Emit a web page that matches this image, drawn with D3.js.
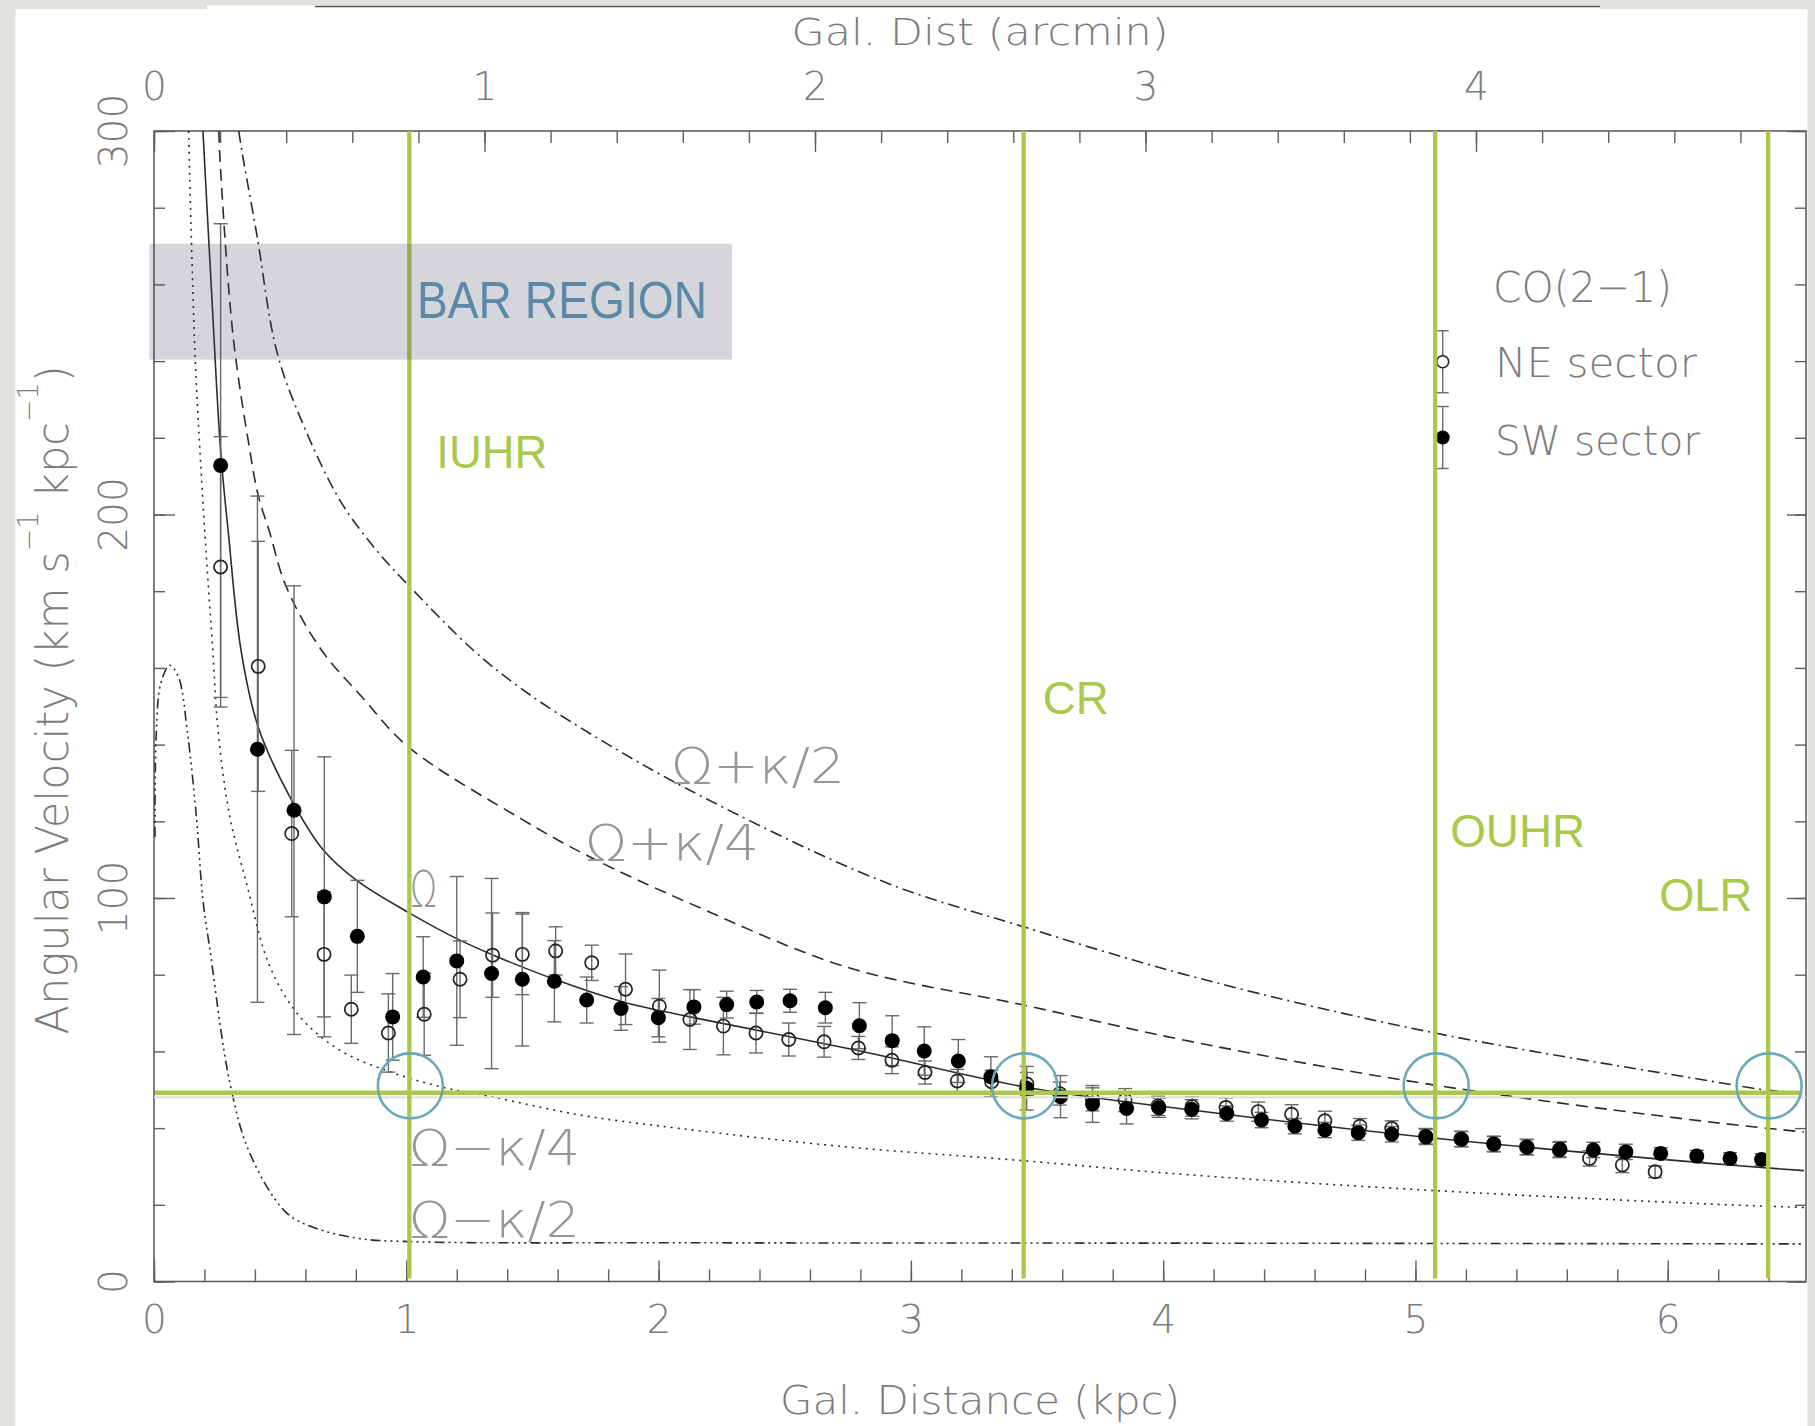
<!DOCTYPE html>
<html>
<head>
<meta charset="utf-8">
<script src="https://cdn.jsdelivr.net/npm/d3@7"></script>
<style>
  body { margin: 0; background: #e4e2dd; }
  svg { display: block; }
</style>
</head>
<body>
<svg id="chart"></svg>
<script>
// ---- values ----
// NE sector (open circles): radius (kpc), angular velocity, error
let neX = [0.264, 0.413, 0.546, 0.674, 0.782, 0.929, 1.071, 1.213, 1.342, 1.46, 1.592, 1.735, 1.869, 2.003, 2.124,
  2.257, 2.386, 2.516, 2.656, 2.792, 2.925, 3.056, 3.184, 3.32, 3.46, 3.59, 3.72, 3.849, 3.98, 4.115,
  4.249, 4.377, 4.509, 4.641, 4.78, 4.906, 5.04, 5.18, 5.31, 5.44, 5.57, 5.69, 5.82, 5.95];
let neY = [186.3, 160.4, 116.8, 85.3, 71.0, 64.8, 69.7, 78.8, 85.1, 85.3, 86.2, 83.1, 76.2, 71.8, 68.3,
  66.6, 64.8, 63.1, 62.5, 60.9, 57.7, 54.5, 52.3, 52.1, 51.5, 49.0, 47.5, 47.3, 45.8, 45.6,
  45.4, 44.3, 43.6, 41.9, 40.5, 39.9, 37.9, 37.2, 35.9, 35.1, 34.3, 32.1, 30.4, 28.6];
let neErr = [34, 32.6, 21.7, 16.3, 8.9, 10.2, 10.7, 10, 11, 10.5, 6.3, 4.6, 9.2, 9.4, 7.8,
  7.5, 5.2, 4.3, 4, 3, 3.5, 3, 3, 3, 3, 3, 3, 3, 2.5, 2.5,
  2.5, 2.5, 2.5, 2.5, 2, 2, 2, 2, 2, 2, 2, 2, 2, 1.5];

// SW sector (filled circles)
let swX = [0.264, 0.41, 0.555, 0.675, 0.806, 0.946, 1.067, 1.2, 1.338, 1.46, 1.587, 1.715, 1.851, 1.999, 2.14,
  2.27, 2.389, 2.521, 2.661, 2.796, 2.926, 3.053, 3.188, 3.317, 3.459, 3.593, 3.72, 3.855, 3.983, 4.113,
  4.252, 4.39, 4.522, 4.641, 4.773, 4.906, 5.042, 5.183, 5.311, 5.443, 5.573, 5.705, 5.834, 5.972, 6.115,
  6.247, 6.372];
let swY = [212.8, 138.8, 122.9, 100.3, 90.0, 69.0, 79.4, 83.6, 80.3, 78.8, 78.3, 73.4, 71.2, 68.8, 71.6,
  72.2, 72.9, 73.2, 71.4, 66.7, 62.8, 60.1, 57.5, 53.4, 50.4, 48.2, 46.3, 45.1, 45.3, 44.9,
  43.8, 42.1, 40.5, 39.5, 38.8, 38.4, 37.7, 37.1, 35.8, 35.0, 34.5, 34.3, 33.8, 33.4, 32.7,
  32.1, 31.8];
let swErr = [63, 66, 58.5, 36.5, 14.6, 11.3, 10.5, 22, 24.8, 17.4, 10.6, 6, 5.7, 5, 4.5,
  3.5, 3, 3, 4, 6, 6.5, 6.3, 5.6, 5.2, 5.7, 5.5, 4.8, 4, 2.5, 2.5,
  2, 2, 2, 2, 2, 2, 2, 2, 2, 2, 2, 2, 2, 1.5, 1.5,
  1.5, 1.5];

// model frequency curves [kpc, km/s/kpc]
let omegaPts = [[0.194, 300], [0.23, 255.8], [0.264, 216.7], [0.295, 195], [0.345, 164.6], [0.413, 144.6],
  [0.539, 126.3], [0.671, 112.5], [0.803, 104.6], [1.015, 96.0], [1.2, 89.4], [1.345, 85.1], [1.596, 78.6],
  [1.86, 72.9], [2.124, 69.0], [2.785, 60.3], [3.446, 50.8], [4.113, 44.7], [5.031, 37.7], [6.167, 30.8], [6.54, 28.9]];
let plusK4Pts = [[0.257, 300], [0.262, 292.2], [0.314, 246.2], [0.38, 216.7], [0.413, 205], [0.46, 195],
  [0.522, 181.5], [0.66, 165], [0.83, 152], [1.008, 139.4], [1.464, 120.3], [1.728, 110.7], [2.124, 98.6],
  [2.745, 82], [3.446, 72.1], [4.146, 62.1], [5.077, 51.2], [6.167, 41.6], [6.54, 39.0]];
let plusK2Pts = [[0.336, 300], [0.348, 294.9], [0.407, 273.2], [0.486, 242.7], [0.579, 225.4], [0.737, 203.7],
  [0.883, 190.6], [1.015, 181.1], [1.266, 164.6], [1.464, 154.2], [1.728, 142.9], [2.124, 128.1], [2.878, 104.6],
  [3.446, 92.5], [4.146, 79.0], [5.077, 64.8], [6.167, 52.3], [6.392, 49.9], [6.54, 49.2]];
let minusK4Pts = [[0.137, 300], [0.162, 242.7], [0.182, 216.7], [0.206, 190.6], [0.233, 164.6], [0.255, 142.9],
  [0.301, 121.1], [0.367, 103.8], [0.46, 82], [0.579, 69], [0.737, 60.3], [0.935, 54.7], [1.134, 50.8],
  [1.336, 48.2], [1.69, 43.4], [2.085, 39.9], [2.745, 35.1], [3.408, 31.7], [4.106, 27.8], [5.077, 23.7],
  [6.167, 20.2], [6.54, 19.3]];
let minusK2Pts = [[0.004, 116], [0.009, 143], [0.027, 156], [0.062, 160.7], [0.097, 157.6], [0.133, 142.9],
  [0.168, 121.1], [0.194, 99.4], [0.222, 86.4], [0.301, 51.7], [0.38, 33.4], [0.522, 18.1], [0.628, 14.2],
  [0.805, 11.3], [1.017, 10.4], [2.164, 10.1], [4.1, 10.0], [6.54, 9.8]];

// resonances and pattern speed
let resNames = ["IUHR", "CR", "OUHR", "OLR"];
let resX = [1.012, 3.447, 5.078, 6.398];
let patternSpeed = 49.2;
let circleLevel = 51.0;

// ticks
let kpcTicks = [0, 1, 2, 3, 4, 5, 6];
let arcminTicks = [0, 1, 2, 3, 4];
let velTicks = [0, 100, 200, 300];

// ---- layout ----
const W = 1815, H = 1426;
const plot = { left: 154, top: 131, right: 1806, bottom: 1281.5 };
const kpcPerArcmin = 1.31;
const xMax = 6.548;

const axisGrey = "#5e5e5e", labelGrey = "#7c7c7c", curveGrey = "#969696";
const green = "#aac84c", teal = "#6aa9ba";
const pgFont = "'DejaVu Sans', sans-serif";
const annFont = "'Liberation Sans', Arial, sans-serif";

const x = d3.scaleLinear().domain([0, xMax]).range([plot.left, plot.right]);
const xArc = d3.scaleLinear().domain([0, xMax / kpcPerArcmin]).range([plot.left, plot.right]);
const y = d3.scaleLinear().domain([0, 300]).range([plot.bottom, plot.top]);

const svg = d3.select("#chart").attr("width", W).attr("height", H);

// white sheet on the grey page
svg.append("rect").attr("x", 15.5).attr("y", 9).attr("width", 1792).attr("height", H - 9).attr("fill", "#fff");
svg.append("rect").attr("x", 207).attr("y", 5.5).attr("width", 1393).attr("height", 4).attr("fill", "#fff");
svg.append("line").attr("x1", 315).attr("x2", 1600).attr("y1", 6.5).attr("y2", 6.5)
  .attr("stroke", "#555").attr("stroke-width", 1.5);

// axes
function styleAxis(g) {
  g.select(".domain").remove();
  g.selectAll(".tick line").attr("stroke", axisGrey).attr("stroke-width", 1.4);
  g.selectAll(".tick text").attr("fill", labelGrey).attr("font-size", 39)
    .attr("font-family", pgFont).attr("font-weight", 300);
}
const minorKpc = d3.range(33).map(i => i * 0.2);
const minorArc = d3.range(25).map(i => i * 0.2);
const minorVel = d3.range(0, 301, 20);

svg.append("g").attr("transform", `translate(0,${plot.bottom})`)
  .call(d3.axisBottom(x).tickValues(minorKpc).tickSizeInner(-12).tickSizeOuter(0).tickFormat(""))
  .call(styleAxis);
svg.append("g").attr("transform", `translate(0,${plot.bottom})`)
  .call(d3.axisBottom(x).tickValues(kpcTicks).tickSizeInner(-21).tickSizeOuter(0).tickPadding(24).tickFormat(d3.format("d")))
  .call(styleAxis);

svg.append("g").attr("transform", `translate(0,${plot.top})`)
  .call(d3.axisTop(xArc).tickValues(minorArc).tickSizeInner(-12).tickSizeOuter(0).tickFormat(""))
  .call(styleAxis);
svg.append("g").attr("transform", `translate(0,${plot.top})`)
  .call(d3.axisTop(xArc).tickValues(arcminTicks).tickSizeInner(-21).tickSizeOuter(0).tickPadding(31).tickFormat(d3.format("d")))
  .call(styleAxis);

svg.append("g").attr("transform", `translate(${plot.left},0)`)
  .call(d3.axisLeft(y).tickValues(minorVel).tickSizeInner(-11).tickSizeOuter(0).tickFormat(""))
  .call(styleAxis);
svg.append("g").attr("transform", `translate(${plot.left},0)`)
  .call(d3.axisLeft(y).tickValues(velTicks).tickSizeInner(-21).tickSizeOuter(0).tickFormat(""))
  .call(styleAxis);
svg.append("g").attr("transform", `translate(${plot.right},0)`)
  .call(d3.axisRight(y).tickValues(minorVel).tickSizeInner(-11).tickSizeOuter(0).tickFormat(""))
  .call(styleAxis);
svg.append("g").attr("transform", `translate(${plot.right},0)`)
  .call(d3.axisRight(y).tickValues(velTicks).tickSizeInner(-19).tickSizeOuter(0).tickFormat(""))
  .call(styleAxis);

// rotated y tick labels
svg.append("g").selectAll("text").data(velTicks).join("text")
  .attr("transform", d => `translate(127,${y(d)}) rotate(-90)`)
  .attr("text-anchor", "middle")
  .attr("fill", labelGrey).attr("font-size", 39).attr("font-family", pgFont).attr("font-weight", 300)
  .text(d => d);

// frame
svg.append("rect").attr("x", plot.left).attr("y", plot.top)
  .attr("width", plot.right - plot.left).attr("height", plot.bottom - plot.top)
  .attr("fill", "none").attr("stroke", axisGrey).attr("stroke-width", 1.6);

// axis titles
svg.append("text").attr("x", 980).attr("y", 1414).attr("text-anchor", "middle")
  .attr("fill", labelGrey).attr("font-size", 39).attr("font-family", pgFont).attr("font-weight", 300)
  .attr("textLength", 400).attr("lengthAdjust", "spacingAndGlyphs")
  .text("Gal. Distance (kpc)");
svg.append("text").attr("x", 980).attr("y", 45).attr("text-anchor", "middle")
  .attr("fill", labelGrey).attr("font-size", 38).attr("font-family", pgFont).attr("font-weight", 300)
  .attr("textLength", 377).attr("lengthAdjust", "spacingAndGlyphs")
  .text("Gal. Dist (arcmin)");

const yTitle = svg.append("text").attr("transform", "translate(68,700) rotate(-90)")
  .attr("text-anchor", "middle")
  .attr("fill", labelGrey).attr("font-size", 45).attr("font-family", pgFont).attr("font-weight", 300)
  .attr("textLength", 669).attr("lengthAdjust", "spacingAndGlyphs");
yTitle.append("tspan").text("Angular Velocity (km s");
yTitle.append("tspan").attr("dy", -30).attr("font-size", 28).text("\u22121");
yTitle.append("tspan").attr("dy", 30).text(" kpc");
yTitle.append("tspan").attr("dy", -30).attr("font-size", 28).text("\u22121");
yTitle.append("tspan").attr("dy", 30).text(")");

// clip for everything inside the frame
svg.append("clipPath").attr("id", "plotClip").append("rect")
  .attr("x", plot.left).attr("y", plot.top)
  .attr("width", plot.right - plot.left).attr("height", plot.bottom - plot.top);

const inner = svg.append("g").attr("clip-path", "url(#plotClip)");

// model curves
const line = d3.line().x(d => x(d[0])).y(d => y(d[1])).curve(d3.curveCatmullRom.alpha(0.5));
const curves = [
  { pts: omegaPts, dash: null },
  { pts: plusK4Pts, dash: "12 7" },
  { pts: plusK2Pts, dash: "12 5 2 5" },
  { pts: minusK4Pts, dash: "2 5" },
  { pts: minusK2Pts, dash: "10 4 2 4 2 4 2 4" }
];
inner.selectAll("path.curve").data(curves).join("path").attr("class", "curve")
  .attr("d", d => line(d.pts))
  .attr("fill", "none").attr("stroke", "#2b2b2b").attr("stroke-width", 1.6)
  .attr("stroke-dasharray", d => d.dash);

// error bars
function errorBars(xs, ys, es) {
  const g = inner.append("g").attr("stroke", "#6a6a6a").attr("stroke-width", 1.4);
  const rows = xs.map((v, i) => ({ x: v, y: ys[i], e: es[i] }));
  g.selectAll("line.bar").data(rows).join("line").attr("class", "bar")
    .attr("x1", d => x(d.x)).attr("x2", d => x(d.x))
    .attr("y1", d => y(d.y - d.e)).attr("y2", d => y(d.y + d.e));
  g.selectAll("line.capHi").data(rows).join("line").attr("class", "capHi")
    .attr("x1", d => x(d.x) - 7).attr("x2", d => x(d.x) + 7)
    .attr("y1", d => y(d.y + d.e)).attr("y2", d => y(d.y + d.e));
  g.selectAll("line.capLo").data(rows).join("line").attr("class", "capLo")
    .attr("x1", d => x(d.x) - 7).attr("x2", d => x(d.x) + 7)
    .attr("y1", d => y(d.y - d.e)).attr("y2", d => y(d.y - d.e));
}
errorBars(neX, neY, neErr);
errorBars(swX, swY, swErr);

inner.append("g").selectAll("circle").data(neX).join("circle")
  .attr("cx", d => x(d)).attr("cy", (d, i) => y(neY[i])).attr("r", 6.6)
  .attr("fill", "none").attr("stroke", "#222").attr("stroke-width", 1.7);
inner.append("g").selectAll("circle").data(swX).join("circle")
  .attr("cx", d => x(d)).attr("cy", (d, i) => y(swY[i])).attr("r", 7.5)
  .attr("fill", "#000");

// legend
const legend = svg.append("g");
legend.append("text").attr("x", 1493).attr("y", 302)
  .attr("fill", labelGrey).attr("font-size", 43).attr("font-family", pgFont).attr("font-weight", 300)
  .attr("textLength", 179).attr("lengthAdjust", "spacingAndGlyphs").text("CO(2\u22121)");
const legRows = [
  { label: "NE sector", cy: 361.7, filled: false, w: 202, base: 377 },
  { label: "SW sector", cy: 437.5, filled: true, w: 205, base: 455 }
];
legRows.forEach(r => {
  const lx = 1442.7;
  legend.append("line").attr("x1", lx).attr("x2", lx).attr("y1", r.cy - 31).attr("y2", r.cy + 31)
    .attr("stroke", "#6a6a6a").attr("stroke-width", 1.4);
  [r.cy - 31, r.cy + 31].forEach(cy => legend.append("line")
    .attr("x1", lx - 6).attr("x2", lx + 6).attr("y1", cy).attr("y2", cy)
    .attr("stroke", "#6a6a6a").attr("stroke-width", 1.4));
  legend.append("circle").attr("cx", lx).attr("cy", r.cy).attr("r", r.filled ? 7 : 6)
    .attr("fill", r.filled ? "#000" : "#fff").attr("stroke", r.filled ? "none" : "#222").attr("stroke-width", 1.6);
  legend.append("text").attr("x", 1495).attr("y", r.base)
    .attr("fill", labelGrey).attr("font-size", 40).attr("font-family", pgFont).attr("font-weight", 300)
    .attr("textLength", r.w).attr("lengthAdjust", "spacingAndGlyphs").text(r.label);
});

// curve labels
const curveLabels = [
  { t: "\u03A9+\u03BA/2", x: 671, y: 783, w: 174 },
  { t: "\u03A9+\u03BA/4", x: 585, y: 860, w: 174 },
  { t: "\u03A9", x: 410, y: 906, w: 27 },
  { t: "\u03A9\u2212\u03BA/4", x: 409, y: 1165, w: 171 },
  { t: "\u03A9\u2212\u03BA/2", x: 409, y: 1237, w: 171 }
];
svg.append("g").selectAll("text").data(curveLabels).join("text")
  .attr("x", d => d.x).attr("y", d => d.y)
  .attr("fill", curveGrey).attr("font-size", 50).attr("font-family", pgFont).attr("font-weight", 300)
  .attr("textLength", d => d.w).attr("lengthAdjust", "spacingAndGlyphs")
  .text(d => d.t);

// pattern-speed line and resonance markers
svg.append("line").attr("x1", plot.left).attr("x2", plot.right)
  .attr("y1", y(patternSpeed) + 4.5).attr("y2", y(patternSpeed) + 4.5)
  .attr("stroke", "#d9d9d9").attr("stroke-width", 1.8);
svg.append("line").attr("x1", plot.left + 1).attr("x2", plot.right - 5)
  .attr("y1", y(patternSpeed)).attr("y2", y(patternSpeed))
  .attr("stroke", green).attr("stroke-width", 4.5);
svg.append("g").selectAll("line").data(resX).join("line")
  .attr("x1", d => x(d)).attr("x2", d => x(d))
  .attr("y1", plot.top).attr("y2", plot.bottom - 3)
  .attr("stroke", green).attr("stroke-width", 4.3);
svg.append("g").selectAll("circle").data(resX).join("circle")
  .attr("cx", d => x(d) + 1).attr("cy", y(circleLevel)).attr("r", 32.5)
  .attr("fill", "none").attr("stroke", teal).attr("stroke-width", 2.6);

// bar region box
svg.append("rect").attr("x", x(-0.018)).attr("y", y(270.6))
  .attr("width", x(2.291) - x(-0.018)).attr("height", y(240.4) - y(270.6))
  .attr("fill", "rgb(58,68,95)").attr("fill-opacity", 0.22);
svg.append("text").attr("x", 417).attr("y", 318)
  .attr("fill", "#5a88a7").attr("font-size", 51).attr("font-family", annFont)
  .attr("textLength", 290).attr("lengthAdjust", "spacingAndGlyphs").text("BAR REGION");

// resonance labels
const resLabel = [
  { dx: 27, y: 468, w: 111, anchor: "start" },
  { dx: 19, y: 714, w: 66, anchor: "start" },
  { dx: 15, y: 847, w: 135, anchor: "start" },
  { dx: -16, y: 911, w: 93, anchor: "end" }
];
svg.append("g").selectAll("text").data(resNames).join("text")
  .attr("x", (d, i) => x(resX[i]) + resLabel[i].dx)
  .attr("y", (d, i) => resLabel[i].y)
  .attr("text-anchor", (d, i) => resLabel[i].anchor)
  .attr("fill", green).attr("font-size", 47).attr("font-family", annFont)
  .attr("textLength", (d, i) => resLabel[i].w).attr("lengthAdjust", "spacingAndGlyphs")
  .text(d => d);
</script>
</body>
</html>
